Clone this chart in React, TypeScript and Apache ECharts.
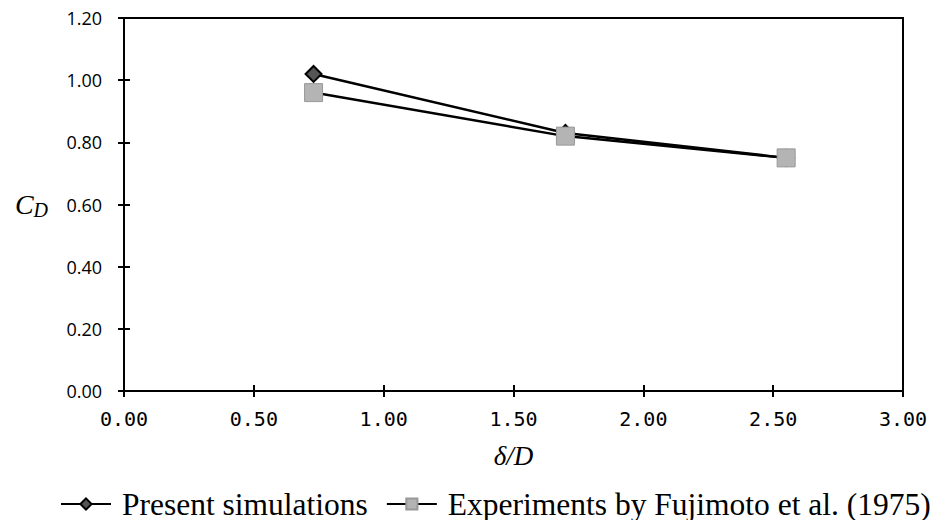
import React, { useEffect, useRef } from "react";
import * as echarts from "echarts";

const xValues = [0.73, 1.7, 2.55];
const simulations = [1.02, 0.83, 0.75];
const experiments = [0.96, 0.82, 0.75];
const seriesNames = ["Present simulations", "Experiments by Fujimoto et al. (1975)"];

export default function App() {
  const ref = useRef<HTMLDivElement>(null);
  useEffect(() => {
    if (!ref.current) return;
    const chart = echarts.init(ref.current, null, { renderer: "svg" });
    const tickFmt = (v: number) => v.toFixed(2);
    const axisLine = { show: true, lineStyle: { color: "#000", width: 2 } };
    chart.setOption({
      animation: false,
      backgroundColor: "#fff",
      grid: {
        left: 124,
        right: 40,
        top: 18,
        bottom: 129,
        show: true,
        borderColor: "#000",
        borderWidth: 2,
        backgroundColor: "transparent",
      },
      legend: {
        left: 60,
        top: 488,
        padding: 0,
        itemWidth: 50,
        itemHeight: 14,
        itemGap: 18,
        textStyle: {
          fontFamily: "Liberation Serif",
          fontSize: 31.5,
          lineHeight: 32,
          color: "#000",
          padding: [0, 0, 0, 6],
        },
        data: seriesNames,
      },
      xAxis: [
        {
          type: "value",
          min: 0,
          max: 3,
          interval: 0.5,
          position: "bottom",
          name: "δ/D",
          nameLocation: "middle",
          nameGap: 51,
          nameTextStyle: { fontFamily: "Liberation Serif", fontStyle: "italic", fontSize: 27, color: "#000" },
          axisLine,
          axisTick: { show: true, inside: false, length: 6, lineStyle: { color: "#000", width: 2 } },
          axisLabel: {
            formatter: tickFmt,
            fontFamily: "DejaVu Sans Mono",
            fontSize: 20,
            color: "#000",
            margin: 18,
          },
          splitLine: { show: false },
        },
        {
          type: "value",
          min: 0,
          max: 3,
          interval: 0.5,
          position: "bottom",
          axisLine: { show: false },
          axisTick: { show: true, inside: true, length: 6, lineStyle: { color: "#000", width: 2 } },
          axisLabel: { show: false },
          splitLine: { show: false },
        },
      ],
      yAxis: [
        {
          type: "value",
          min: 0,
          max: 1.2,
          interval: 0.2,
          position: "left",
          name: "{c|C}{d|D}",
          nameLocation: "middle",
          nameRotate: 0,
          nameGap: 76,
          nameTextStyle: {
            rich: {
              c: { fontFamily: "Liberation Serif", fontStyle: "italic", fontSize: 28, color: "#000" },
              d: {
                fontFamily: "Liberation Serif",
                fontStyle: "italic",
                fontSize: 20,
                color: "#000",
                padding: [10, 0, 0, 0],
              },
            },
          },
          axisLine,
          axisTick: { show: true, inside: false, length: 6, lineStyle: { color: "#000", width: 2 } },
          axisLabel: { formatter: tickFmt, fontFamily: "Open Sans", fontSize: 18, color: "#000", margin: 22 },
          splitLine: { show: false },
        },
        {
          type: "value",
          min: 0,
          max: 1.2,
          interval: 0.2,
          position: "left",
          axisLine: { show: false },
          axisTick: { show: true, inside: true, length: 6, lineStyle: { color: "#000", width: 2 } },
          axisLabel: { show: false },
          splitLine: { show: false },
        },
      ],
      series: [
        {
          name: seriesNames[0],
          type: "line",
          xAxisIndex: 0,
          yAxisIndex: 0,
          data: xValues.map((x, i) => [x, simulations[i]]),
          symbol: "diamond",
          symbolSize: 16,
          lineStyle: { color: "#000", width: 2.5 },
          itemStyle: { color: "#555", borderColor: "#000", borderWidth: 2 },
          z: 3,
        },
        {
          name: seriesNames[1],
          type: "line",
          xAxisIndex: 0,
          yAxisIndex: 0,
          data: xValues.map((x, i) => [x, experiments[i]]),
          symbol: "rect",
          symbolSize: 18,
          lineStyle: { color: "#000", width: 2.5 },
          itemStyle: { color: "#b4b4b4", borderColor: "#999", borderWidth: 1 },
          z: 4,
        },
      ],
    });
    return () => chart.dispose();
  }, []);
  return (
    <div
      ref={ref}
      style={{ position: "fixed", left: 0, top: 0, width: 943, height: 520, background: "#fff" }}
    />
  );
}
